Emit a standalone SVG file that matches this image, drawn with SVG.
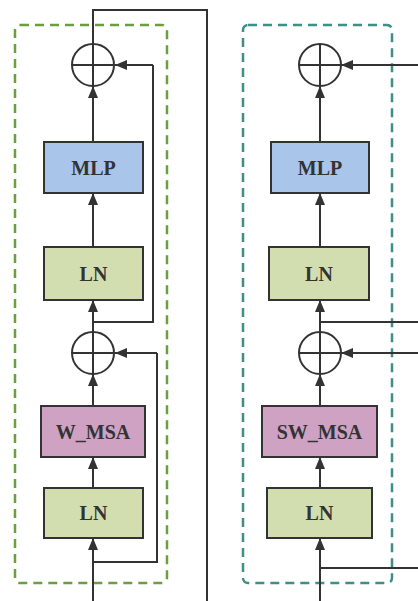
<svg xmlns="http://www.w3.org/2000/svg" width="418" height="601" viewBox="0 0 418 601">
<style>
.box{stroke:#333;stroke-width:2}
.mlp{fill:#a9c5ea}
.ln{fill:#d2deb0}
.msa{fill:#cfa1c2}
.t{font-family:"Liberation Serif",serif;font-weight:bold;font-size:20px;fill:#333;text-anchor:middle;dominant-baseline:central}
.c{fill:#fff;stroke:#333;stroke-width:2}
.w{fill:none;stroke:#333;stroke-width:2}
.a{fill:none;stroke:#333;stroke-width:2;marker-end:url(#ah)}
</style>
<defs>
<marker id="ah" viewBox="0 0 12 10" refX="12" refY="5" markerWidth="12" markerHeight="10" markerUnits="userSpaceOnUse" orient="auto">
<path d="M0,0 L12,5 L0,10 Z" fill="#333"/>
</marker>
</defs>
<rect width="418" height="601" fill="#fff"/>
<rect id="groupLeft" x="15" y="25" width="152" height="558" rx="5" fill="none" stroke="#6a9e3f" stroke-width="2.5" stroke-dasharray="9,6"/>
<rect id="groupRight" x="243" y="25" width="149" height="558" rx="5" fill="none" stroke="#3d8f88" stroke-width="2.5" stroke-dasharray="9,6"/>
<g id="connectors">
<path class="w" d="M93,44 V10 H207 V601"/>
<path class="a" d="M153,65 H115"/>
<path class="w" d="M153,65 V322 H93"/>
<path class="a" d="M93,142 V86"/>
<path class="a" d="M93,247 V193"/>
<path class="a" d="M93,332 V300"/>
<path class="a" d="M93,406 V374"/>
<path class="a" d="M157,353 H115"/>
<path class="w" d="M157,353 V562 H93"/>
<path class="a" d="M93,488 V457"/>
<path class="a" d="M93,601 V538"/>
<path class="a" d="M418,65 H341"/>
<path class="a" d="M320,142 V86"/>
<path class="a" d="M320,247 V193"/>
<path class="a" d="M320,332 V300"/>
<path class="w" d="M320,322 H418"/>
<path class="a" d="M418,353 H341"/>
<path class="a" d="M320,406 V374"/>
<path class="a" d="M320,488 V457"/>
<path class="a" d="M320,601 V538"/>
<path class="w" d="M320,568 H418"/>
</g>
<g id="addL1"><circle class="c" cx="93" cy="65" r="21"/><path class="w" d="M72,65 H114 M93,44 V86"/></g>
<g id="mlpL"><rect class="box mlp" x="44" y="142" width="99" height="51"/><text class="t" x="93.5" y="168">MLP</text></g>
<g id="ln2L"><rect class="box ln" x="44" y="247" width="99" height="53"/><text class="t" x="93.5" y="274">LN</text></g>
<g id="addL2"><circle class="c" cx="93" cy="353" r="21"/><path class="w" d="M72,353 H114 M93,332 V374"/></g>
<g id="wmsa"><rect class="box msa" x="41" y="406" width="104" height="51"/><text class="t" x="93" y="432">W_MSA</text></g>
<g id="ln1L"><rect class="box ln" x="44" y="488" width="99" height="50"/><text class="t" x="93.5" y="513">LN</text></g>
<g id="addR1"><circle class="c" cx="320" cy="65" r="21"/><path class="w" d="M299,65 H341 M320,44 V86"/></g>
<g id="mlpR"><rect class="box mlp" x="271" y="142" width="98" height="51"/><text class="t" x="320" y="168">MLP</text></g>
<g id="ln2R"><rect class="box ln" x="269" y="247" width="100" height="53"/><text class="t" x="319" y="274">LN</text></g>
<g id="addR2"><circle class="c" cx="320" cy="353" r="21"/><path class="w" d="M299,353 H341 M320,332 V374"/></g>
<g id="swmsa"><rect class="box msa" x="262" y="406" width="115" height="51"/><text class="t" x="319.5" y="432">SW_MSA</text></g>
<g id="ln1R"><rect class="box ln" x="267" y="488" width="105" height="50"/><text class="t" x="319.5" y="513">LN</text></g>
</svg>
